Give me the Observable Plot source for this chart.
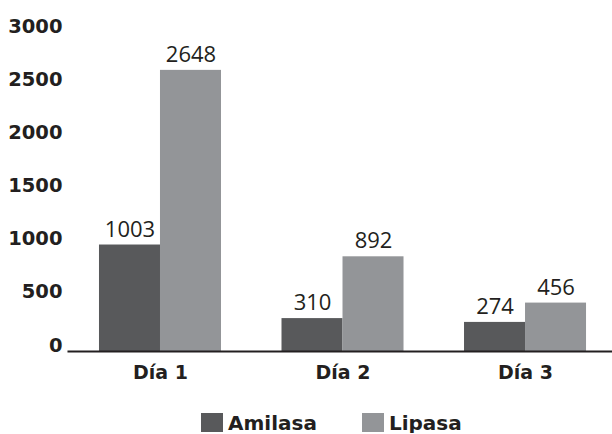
<!DOCTYPE html>
<html>
<head>
<meta charset="utf-8">
<script src="https://cdn.jsdelivr.net/npm/d3@7"></script>
<script src="https://cdn.jsdelivr.net/npm/@observablehq/plot@0.6"></script>
<style>
  html, body { margin: 0; padding: 0; background: #fff; }
  #chart { width: 612px; }
  #legend { display: flex; align-items: flex-start; padding-top: 21px; margin-left: 201px;
            font-family: "DejaVu Sans", sans-serif; font-weight: bold; font-size: 20px; line-height: 20px; color: #231f20; }
  .item { display: flex; align-items: flex-start; }
  .item + .item { margin-left: 45px; }
  .sw { width: 22px; height: 19px; margin-right: 5px; }
</style>
</head>
<body>
<div id="chart"></div>
<script>
const days = ["Día 1", "Día 2", "Día 3"];
const series = ["Amilasa", "Lipasa"];
const amilasa = [1003, 310, 274];
const lipasa = [2648, 892, 456];
const yTicks = [0, 500, 1000, 1500, 2000, 2500, 3000];
const colors = ["#58595b", "#939598"];

const data = [];
days.forEach((d, i) => {
  data.push({day: d, series: series[0], value: amilasa[i]});
  data.push({day: d, series: series[1], value: lipasa[i]});
});

const ink = "#231f20";
const plot = Plot.plot({
  width: 612,
  height: 392,
  marginLeft: 68,
  marginRight: 0,
  marginTop: 32.5,
  marginBottom: 41,
  style: {background: "#fff", color: ink},
  fx: {domain: days, paddingInner: 0.3315, paddingOuter: 0.156, align: 0.544, round: false, label: null, axis: null},
  x: {domain: series, padding: 0, axis: null, round: false},
  y: {domain: [0, 3000], axis: null},
  color: {domain: series, range: colors},
  marks: [
    Plot.barY(data, {fx: "day", x: "series", y: "value", fill: "series"}),
    Plot.text(data, {fx: "day", x: "series", y: "value", text: d => String(d.value), lineAnchor: "bottom", dy: -8.5,
      fontFamily: "Open Sans", fontSize: 22, fill: ink}),
    Plot.axisY(yTicks, {tickSize: 0, tickPadding: 37, textAnchor: "end", lineAnchor: "bottom", label: null,
      tickFormat: d => String(d),
      fontFamily: "DejaVu Sans", fontWeight: "bold", fontSize: 19.5, fill: ink}),
    Plot.axisFx({anchor: "bottom", tickSize: 0, tickPadding: 14, label: null,
      fontFamily: "DejaVu Sans", fontWeight: "bold", fontSize: 19, fill: ink}),
    Plot.frame({anchor: "bottom", facet: "super", stroke: ink, strokeWidth: 2, insetLeft: -31, insetRight: -26})
  ]
});
document.getElementById("chart").appendChild(plot);

const legend = document.createElement("div");
legend.id = "legend";
series.forEach((s, i) => {
  const item = document.createElement("div");
  item.className = "item";
  const sw = document.createElement("div");
  sw.className = "sw";
  sw.style.background = colors[i];
  const t = document.createElement("span");
  t.textContent = s;
  item.appendChild(sw);
  item.appendChild(t);
  legend.appendChild(item);
});
document.getElementById("chart").appendChild(legend);
</script>
</body>
</html>
